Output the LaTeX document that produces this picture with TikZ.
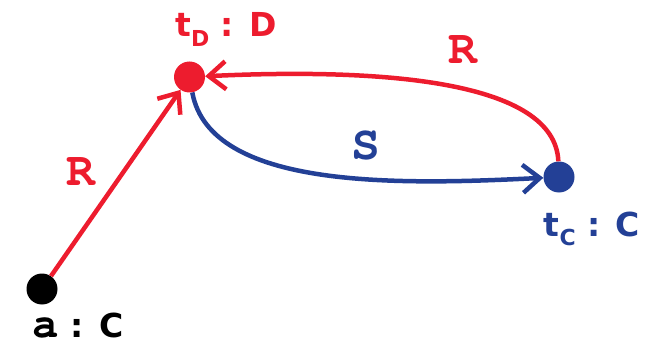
\documentclass[tikz,border=0pt]{standalone}
\usepackage{fontspec}
\setmainfont{DejaVu Sans}
\newfontfamily\cour{TeX Gyre Cursor}
\usetikzlibrary{arrows.meta}
\definecolor{myred}{RGB}{237,28,46}
\definecolor{myblue}{RGB}{35,64,150}
\newcommand{\lbsub}[1]{\raisebox{-0.3em}{\fontsize{22}{22}\selectfont #1}}
\tikzset{
  dot/.style={circle,fill,inner sep=0pt,minimum size=31pt},
  edge/.style={line width=4.5pt,-{Straight Barb[length=17pt,width=28pt,line width=4.5pt]}},
  elabel/.style={font=\cour\bfseries\fontsize{48}{48}\selectfont},
  nlabel/.style={font=\bfseries\fontsize{33}{33}\selectfont,inner sep=0pt}
}
\begin{document}
\begin{tikzpicture}[x=1pt,y=-1pt]
\useasboundingbox (0,0) rectangle (651,345);
\node[dot,black] (a) at (42,289) {};
\node[dot,myred] (tD) at (189.5,77) {};
\node[dot,myblue] (tC) at (559,177) {};
\node[nlabel,black,anchor=base] (la) at (78,337) {{\cour\bfseries\fontsize{44}{44}\selectfont a} : C};
\node[nlabel,myred,anchor=base] (ltD) at (226,37) {t\lbsub{D} : D};
\node[nlabel,myblue,anchor=base] (ltC) at (592,236) {t\lbsub{C} : C};
\draw[edge,myred] (a) -- (tD);
\draw[edge,myred] (tC) .. controls (555,80) and (380,68) .. (tD);
\draw[edge,myblue] (tD) .. controls (210,190) and (400,185) .. (tC);
\node[elabel,myred] (r1) at (81,172) {R};
\node[elabel,myred] (r2) at (463,50) {R};
\node[elabel,myblue] (s) at (366,146) {S};
\end{tikzpicture}
\end{document}
